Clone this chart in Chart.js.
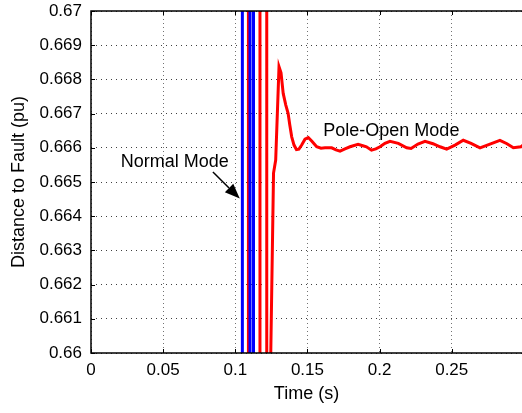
<!DOCTYPE html>
<html>
<head>
<meta charset="utf-8">
<script src="https://cdn.jsdelivr.net/npm/chart.js@4/dist/chart.umd.min.js"></script>
<style>
  body { margin: 0; background: #fff; }
  canvas { display: block; }
</style>
</head>
<body>
<canvas id="faultChart" width="522" height="413"></canvas>
<script>
// tick labels
const xTicks = [0, 0.05, 0.1, 0.15, 0.2, 0.25];
const yTicks = [0.66, 0.661, 0.662, 0.663, 0.664, 0.665, 0.666, 0.667, 0.668, 0.669, 0.67];

// Normal mode estimate: jumps off scale (switching spikes)
const blueT = [0.1049, 0.1049, 0.1102, 0.1102, 0.1126, 0.1126];
const blueD = [0.655, 0.675, 0.675, 0.655, 0.655, 0.675];

// Pole-open mode estimate: spikes, then settles near 0.666
const redSpikeT = [0.1091, 0.1091, 0.1171, 0.1171, 0.1218, 0.1218, 0.1244];
const redSpikeD = [0.675, 0.655, 0.655, 0.675, 0.675, 0.655, 0.6595];
const redT = [0.1265, 0.1280, 0.1303, 0.1317, 0.1332, 0.1350, 0.1366, 0.1378, 0.1391, 0.1407,
  0.1424, 0.1441, 0.1460, 0.1483, 0.1506, 0.1531, 0.1564, 0.1594, 0.1622, 0.1668,
  0.1698, 0.1726, 0.1760, 0.1795, 0.1851, 0.1884, 0.1909, 0.1944, 0.1974, 0.2003,
  0.2037, 0.2072, 0.2130, 0.2188, 0.2218, 0.2266, 0.2315, 0.2370, 0.2419, 0.2465,
  0.2523, 0.2580, 0.2634, 0.2696, 0.2765, 0.2834, 0.2883, 0.2927, 0.2980, 0.2995];
const redD = [0.66526, 0.66564, 0.66837, 0.66819, 0.66759, 0.66725, 0.66701, 0.66666, 0.66632, 0.66608,
  0.66595, 0.66596, 0.66608, 0.66625, 0.66630, 0.66619, 0.66603, 0.66599, 0.66600, 0.66600,
  0.66594, 0.66590, 0.66597, 0.66603, 0.66610, 0.66606, 0.66603, 0.66593, 0.66597, 0.66603,
  0.66613, 0.66619, 0.66613, 0.66600, 0.66598, 0.66611, 0.66619, 0.66612, 0.66603, 0.66596,
  0.66608, 0.66622, 0.66613, 0.66600, 0.66611, 0.66622, 0.66612, 0.66600, 0.66603, 0.66608];

const FONT = '"Liberation Sans", Arial, Helvetica, sans-serif';
const toPoints = (t, d) => t.map((v, i) => ({ x: v, y: d[i] }));

// axes box, inward ticks and the two text annotations
const frame = {
  id: 'frame',
  afterDatasetsDraw(chart) {
    const { ctx, chartArea: a, scales: { x, y } } = chart;
    ctx.save();
    ctx.strokeStyle = '#000';
    ctx.lineWidth = 1.5;
    ctx.beginPath();
    ctx.moveTo(a.right + 2, a.top);
    ctx.lineTo(a.left, a.top);
    ctx.lineTo(a.left, a.bottom);
    ctx.lineTo(a.right + 2, a.bottom);
    ctx.stroke();

    ctx.lineWidth = 1;
    ctx.beginPath();
    yTicks.forEach(v => {
      const p = Math.round(y.getPixelForValue(v)) + 0.5;
      ctx.moveTo(a.left, p);
      ctx.lineTo(a.left + 4, p);
    });
    xTicks.forEach(v => {
      const p = Math.round(x.getPixelForValue(v)) + 0.5;
      ctx.moveTo(p, a.bottom);
      ctx.lineTo(p, a.bottom - 4);
      ctx.moveTo(p, a.top);
      ctx.lineTo(p, a.top + 4);
    });
    ctx.stroke();

    ctx.fillStyle = '#000';
    ctx.font = '18px ' + FONT;
    ctx.textBaseline = 'alphabetic';
    ctx.fillText('Normal Mode', x.getPixelForValue(0.0206), y.getPixelForValue(0.66544));
    ctx.fillText('Pole-Open Mode', x.getPixelForValue(0.1610), y.getPixelForValue(0.66634));

    // arrow pointing at the blue lines
    const x0 = x.getPixelForValue(0.0845), y0 = y.getPixelForValue(0.66529);
    const x1 = x.getPixelForValue(0.1031), y1 = y.getPixelForValue(0.66452);
    const ang = Math.atan2(y1 - y0, x1 - x0);
    const hl = 15, hw = 6;
    const bx = x1 - hl * Math.cos(ang), by = y1 - hl * Math.sin(ang);
    ctx.lineWidth = 1.5;
    ctx.beginPath();
    ctx.moveTo(x0, y0);
    ctx.lineTo(bx, by);
    ctx.stroke();
    ctx.beginPath();
    ctx.moveTo(x1, y1);
    ctx.lineTo(bx + hw * Math.sin(ang), by - hw * Math.cos(ang));
    ctx.lineTo(bx - hw * Math.sin(ang), by + hw * Math.cos(ang));
    ctx.closePath();
    ctx.fill();
    ctx.restore();
  }
};

new Chart(document.getElementById('faultChart'), {
  type: 'line',
  data: {
    datasets: [
      {
        label: 'Normal Mode',
        data: toPoints(blueT, blueD),
        borderColor: '#0000ff',
        borderWidth: 3,
        pointRadius: 0,
        tension: 0,
      },
      {
        label: 'Pole-Open Mode',
        data: toPoints(redSpikeT.concat(redT), redSpikeD.concat(redD)),
        borderColor: '#ff0000',
        borderWidth: 3,
        pointRadius: 0,
        tension: 0,
      },
    ],
  },
  options: {
    responsive: false,
    animation: false,
    layout: { padding: { top: 11, right: 0, left: 0, bottom: 0 } },
    plugins: { legend: { display: false }, tooltip: { enabled: false } },
    scales: {
      x: {
        type: 'linear',
        min: 0,
        max: 0.2987,
        afterBuildTicks: s => { s.ticks = xTicks.map(v => ({ value: v })); },
        afterFit: s => { s.height = 60; },
        ticks: {
          color: '#000',
          font: { family: FONT, size: 17 },
          padding: 7,
          maxRotation: 0,
          callback: v => String(Number(v.toFixed(3))),
        },
        grid: { color: 'rgba(0,0,0,0.55)', lineWidth: 1, drawTicks: false },
        border: { display: false, dash: [1, 3] },
        title: {
          display: true,
          text: 'Time (s)',
          color: '#000',
          font: { family: FONT, size: 18 },
          padding: { top: 0, bottom: 8 },
        },
      },
      y: {
        type: 'linear',
        min: 0.66,
        max: 0.67,
        afterBuildTicks: s => { s.ticks = yTicks.map(v => ({ value: v })); },
        afterFit: s => { s.width = 91; s.paddingTop = 0; s.paddingBottom = 0; },
        ticks: {
          color: '#000',
          font: { family: FONT, size: 17 },
          padding: 9,
          callback: v => String(Number(v.toFixed(3))),
        },
        grid: { color: 'rgba(0,0,0,0.75)', lineWidth: 1, drawTicks: false },
        border: { display: false, dash: [1, 4] },
        title: {
          display: true,
          text: 'Distance to Fault (pu)',
          color: '#000',
          font: { family: FONT, size: 18 },
          padding: { top: 8, bottom: 0 },
        },
      },
    },
  },
  plugins: [frame],
});
</script>
</body>
</html>
